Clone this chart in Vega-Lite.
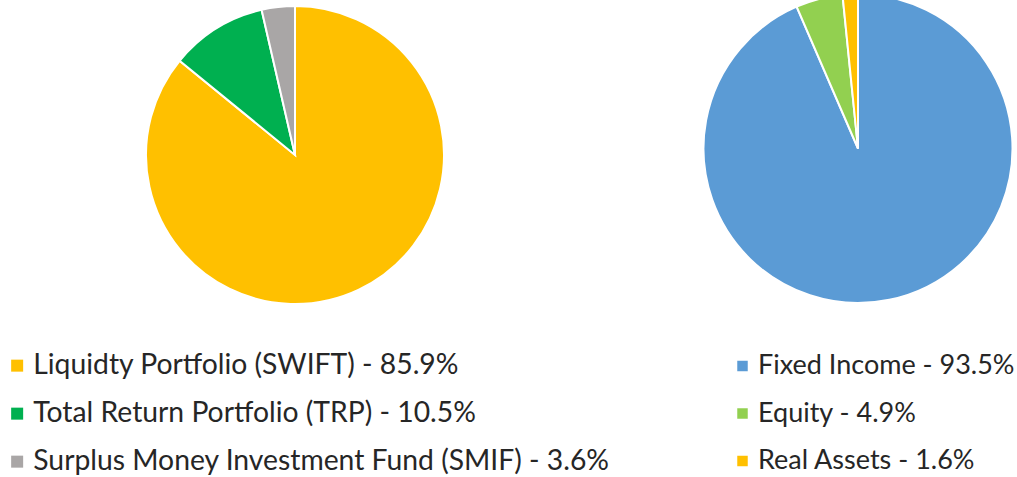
{
  "$schema": "https://vega.github.io/schema/vega-lite/v6.json",
  "padding": 0,
  "spacing": 0,
  "bounds": "flush",
  "background": "white",
  "config": {
    "view": {"stroke": null},
    "legend": {"labelFont": "Lato", "labelFontSize": 27.5, "labelColor": "#262626", "labelLimit": 0}
  },
  "resolve": {"scale": {"color": "independent"}, "legend": {"color": "independent"}},
  "hconcat": [
    {
      "width": 590,
      "height": 310,
      "data": {"values": [
        {"fund": "Liquidty Portfolio (SWIFT) - 85.9%", "pct": 85.9, "idx": 1},
        {"fund": "Total Return Portfolio (TRP) - 10.5%", "pct": 10.5, "idx": 2},
        {"fund": "Surplus Money Investment Fund (SMIF) - 3.6%", "pct": 3.6, "idx": 3}
      ]},
      "mark": {"type": "arc", "radius": 149, "stroke": "white", "strokeWidth": 2},
      "encoding": {
        "theta": {"field": "pct", "type": "quantitative", "stack": true},
        "order": {"field": "idx", "type": "quantitative"},
        "color": {
          "field": "fund", "type": "nominal",
          "scale": {
            "domain": ["Liquidty Portfolio (SWIFT) - 85.9%", "Total Return Portfolio (TRP) - 10.5%", "Surplus Money Investment Fund (SMIF) - 3.6%"],
            "range": ["#FFC000", "#00B050", "#A9A6A6"]
          },
          "legend": {
            "title": null, "orient": "none", "legendX": 3, "legendY": 351.5,
            "symbolType": "square", "symbolSize": 144, "symbolStrokeWidth": 0,
            "labelOffset": 2, "rowPadding": 19, "labelFontSize": 28.3
          }
        }
      }
    },
    {
      "width": 536,
      "height": 310,
      "data": {"values": [
        {"asset": "Fixed Income - 93.5%", "pct": 93.5, "idx": 1},
        {"asset": "Equity - 4.9%", "pct": 4.9, "idx": 2},
        {"asset": "Real Assets - 1.6%", "pct": 1.6, "idx": 3}
      ]},
      "mark": {"type": "arc", "radius": 154.5, "yOffset": -6.5, "stroke": "white", "strokeWidth": 2, "clip": true},
      "encoding": {
        "theta": {"field": "pct", "type": "quantitative", "stack": true},
        "order": {"field": "idx", "type": "quantitative"},
        "color": {
          "field": "asset", "type": "nominal",
          "scale": {
            "domain": ["Fixed Income - 93.5%", "Equity - 4.9%", "Real Assets - 1.6%"],
            "range": ["#5B9BD5", "#92D050", "#FFC000"]
          },
          "legend": {
            "title": null, "orient": "none", "legendX": 139, "legendY": 352.5,
            "symbolType": "square", "symbolSize": 110, "symbolStrokeWidth": 0,
            "labelOffset": 2, "rowPadding": 19.5, "labelFontSize": 27
          }
        }
      }
    }
  ]
}
